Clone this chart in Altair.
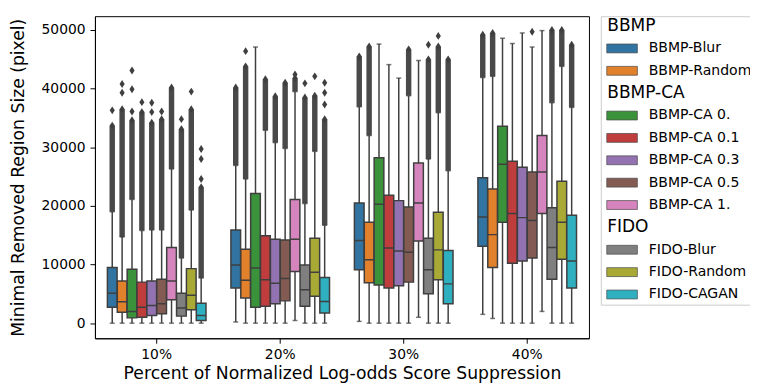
import altair as alt
import pandas as pd

groups = ["10%", "20%", "30%", "40%"]
methods = ["BBMP-Blur", "BBMP-Random", "BBMP-CA 0.", "BBMP-CA 0.1", "BBMP-CA 0.3",
           "BBMP-CA 0.5", "BBMP-CA 1.", "FIDO-Blur", "FIDO-Random", "FIDO-CAGAN"]
colors = ["#3274a1", "#e1812c", "#3a923a", "#c03d3e", "#9372b2",
          "#845b53", "#d684bd", "#7f7f7f", "#a9aa35", "#2eb0c1"]

# box statistics, one list per group (10%, 20%, 30%, 40%), methods in order
q1 = [
    [2700, 1850, 900, 1000, 1300, 1600, 4000, 1200, 2300, 450],
    [6000, 4300, 2700, 2900, 3300, 3800, 8800, 2900, 4600, 1750],
    [9100, 6900, 6500, 6000, 6400, 7000, 14000, 5000, 7400, 3300],
    [13100, 9500, 17200, 10200, 10600, 11100, 18700, 7500, 10900, 6000],
]
median = [
    [5100, 3650, 2000, 2700, 3000, 3300, 7200, 2600, 4750, 1300],
    [9900, 7300, 9400, 7400, 6800, 7600, 14300, 5700, 8700, 3700],
    [14100, 10800, 20300, 12800, 12300, 12100, 20500, 9100, 12500, 6700],
    [18100, 15100, 27100, 18700, 18000, 17500, 25800, 12900, 17200, 10600],
]
q3 = [
    [9500, 7200, 9200, 7000, 7200, 7500, 12900, 5100, 9300, 3400],
    [15900, 12600, 22100, 14900, 14300, 14200, 21100, 9900, 14500, 7800],
    [20500, 17200, 28200, 21800, 20900, 19800, 27300, 14500, 18900, 12400],
    [24800, 22900, 33600, 27600, 26600, 25800, 32000, 19700, 24200, 18400],
]
whisker_low = [
    [0, 0, 0, 0, 0, 0, 0, 0, 0, 0],
    [200, 0, 0, 0, 0, 0, 450, 0, 0, 0],
    [300, 0, 0, 0, 0, 0, 1000, 0, 0, 0],
    [1500, 800, 0, 0, 0, 0, 2000, 0, 0, 0],
]
whisker_high = [
    [19000, 14700, 21100, 15800, 15900, 15900, 26300, 11100, 19300, 7700],
    [26900, 24600, 47100, 32900, 30800, 29800, 39500, 20400, 29300, 16700],
    [36900, 32000, 47600, 44100, 41800, 38800, 44800, 28000, 35900, 26000],
    [41900, 42100, 48600, 47700, 49500, 47100, 49900, 37600, 43800, 36800],
]
# top of the dense column of outliers (None = no dense outliers)
outlier_top = [
    [33700, 36500, 34600, 36000, 34200, 34800, 40200, 33100, 36500, 23200],
    [40200, 43800, None, 41600, 38700, 41000, 41800, 38500, 38800, 34800],
    [45500, 47200, None, None, None, 46700, None, 45000, 47200, 45000],
    [49200, 49500, None, None, None, None, None, 50000, 50000, 47500],
]
# isolated outliers above the dense column
outlier_extra = [
    [[36300], [39300, 40800], [36100, 39900, 43100], [37700], [36000, 37600],
     [36100], [], [34800], [39500], [24600, 28000, 29700]],
    [[], [46400], [], [], [], [], [42400], [40900], [42100], [37300, 39300, 41000]],
    [[], [], [], [], [], [], [], [47500], [49000], []],
    [[], [], [], [], [], [49700], [], [], [], []],
]

rows, dense, fliers = [], [], []
for gi, g in enumerate(groups):
    for mi, m in enumerate(methods):
        rows.append(dict(group=g, method=m, q1=q1[gi][mi], med=median[gi][mi],
                         q3=q3[gi][mi], lo=whisker_low[gi][mi], hi=whisker_high[gi][mi]))
        top = outlier_top[gi][mi]
        if top is not None:
            dense.append(dict(group=g, method=m, lo=whisker_high[gi][mi], hi=top))
            fliers.append(dict(group=g, method=m, v=top))
        for v in outlier_extra[gi][mi]:
            fliers.append(dict(group=g, method=m, v=v))

box_df = pd.DataFrame(rows)
dense_df = pd.DataFrame(dense)
flier_df = pd.DataFrame(fliers)

LINE = "#3f3f3f"
FONT = "DejaVu Sans"

xenc = alt.X("group:N", sort=groups,
             scale=alt.Scale(paddingInner=0.2, paddingOuter=0.1),
             axis=alt.Axis(title="Percent of Normalized Log-odds Score Suppression",
                           labelAngle=0, labelFontSize=14, titleFontSize=17.4,
                           tickSize=5, labelPadding=4, titlePadding=4))
xoff = alt.XOffset("method:N", sort=methods,
                   scale=alt.Scale(paddingInner=0.02, paddingOuter=0.01))
yscale = alt.Scale(domain=[-2580, 52360], nice=False, zero=False)
color = alt.Color("method:N", sort=methods,
                  scale=alt.Scale(domain=methods, range=colors), legend=None)

base = alt.Chart(box_df)

whiskers = base.mark_rule(color=LINE, strokeWidth=1.5).encode(
    x=xenc, xOffset=xoff,
    y=alt.Y("lo:Q", scale=yscale,
            axis=alt.Axis(title="Minimal Removed Region Size (pixel)",
                          values=[0, 10000, 20000, 30000, 40000, 50000], format="d",
                          labelFontSize=14, titleFontSize=17.4, tickSize=5,
                          labelPadding=5, titlePadding=14, grid=False)),
    y2="hi:Q")

dense_rule = alt.Chart(dense_df).mark_rule(color=LINE, strokeWidth=5.5, opacity=0.95).encode(
    x=xenc, xOffset=xoff, y=alt.Y("lo:Q", scale=yscale), y2="hi:Q")

boxes = base.mark_bar(stroke=LINE, strokeWidth=1.5).encode(
    x=xenc, xOffset=xoff, y=alt.Y("q1:Q", scale=yscale), y2="q3:Q", color=color)

medians = base.mark_bar(stroke=LINE, strokeWidth=1.5, fillOpacity=0).encode(
    x=xenc, xOffset=xoff, y=alt.Y("med:Q", scale=yscale), y2="med:Q")

caps_lo = base.mark_tick(color=LINE, size=5, thickness=1.5).encode(
    x=xenc, xOffset=xoff, y=alt.Y("lo:Q", scale=yscale))
caps_hi = base.mark_tick(color=LINE, size=5, thickness=1.5).encode(
    x=xenc, xOffset=xoff, y=alt.Y("hi:Q", scale=yscale))

diamond = "M0,-1L0.65,0L0,1L-0.65,0Z"
flier_marks = alt.Chart(flier_df).mark_point(
    shape=diamond, size=64, filled=True, color=LINE, opacity=1).encode(
    x=xenc, xOffset=xoff, y=alt.Y("v:Q", scale=yscale))

main = alt.layer(whiskers, dense_rule, boxes, medians, caps_lo, caps_hi, flier_marks).properties(
    width=500, height=326, view=alt.ViewBackground(stroke="black", strokeWidth=1))

# custom legend with section headers
legend_labels = ["BBMP", "BBMP-Blur", "BBMP-Random", "BBMP-CA", "BBMP-CA 0.", "BBMP-CA 0.1",
                 "BBMP-CA 0.3", "BBMP-CA 0.5", "BBMP-CA 1.", "FIDO", "FIDO-Blur",
                 "FIDO-Random", "FIDO-CAGAN"]
legend_kind = ["header", "item", "item", "header", "item", "item", "item", "item", "item",
               "header", "item", "item", "item"]
leg_df = pd.DataFrame(dict(label=legend_labels, kind=legend_kind,
                           row=list(range(len(legend_labels)))))
LW, LH = 151, 293
ly = alt.Scale(domain=[-0.442, 12.5], reverse=True, nice=False, zero=False)

one = pd.DataFrame(dict(k=[0]))
FRAME = "#cccccc"
frame_top = alt.Chart(one).mark_rule(color=FRAME, strokeWidth=1).encode(
    x=alt.value(0.5), x2=alt.value(LW), y=alt.value(0.5))
frame_bottom = alt.Chart(one).mark_rule(color=FRAME, strokeWidth=1).encode(
    x=alt.value(0.5), x2=alt.value(LW), y=alt.value(LH - 0.5))
frame_left = alt.Chart(one).mark_rule(color=FRAME, strokeWidth=1).encode(
    x=alt.value(0.5), y=alt.value(0.5), y2=alt.value(LH - 0.5))

symbols = alt.Chart(leg_df).transform_filter(alt.datum.kind == "item").mark_point(
    shape="M-1,-0.29H1V0.29H-1Z", size=961, filled=True, opacity=1,
    stroke="#4a4a4a", strokeWidth=0.7).encode(
    x=alt.value(21.5), y=alt.Y("row:Q", scale=ly, axis=None),
    fill=alt.Fill("label:N", scale=alt.Scale(domain=methods, range=colors), legend=None))

item_text = alt.Chart(leg_df).transform_filter(alt.datum.kind == "item").mark_text(
    align="left", baseline="middle", fontSize=14.2, font=FONT, color="black",
    clip=True).encode(
    x=alt.value(48.5), y=alt.Y("row:Q", scale=ly, axis=None), text="label:N")

head_text = alt.Chart(leg_df).transform_filter(alt.datum.kind == "header").mark_text(
    align="left", baseline="middle", fontSize=17.2, font=FONT, color="black").encode(
    x=alt.value(6.5), y=alt.Y("row:Q", scale=ly, axis=None), text="label:N")

legend = alt.layer(frame_top, frame_bottom, frame_left, symbols, item_text, head_text).properties(
    width=LW, height=LH, view=alt.ViewBackground(stroke="transparent"))

chart = alt.hconcat(main, legend, spacing=10).properties(
    padding={"left": 0, "top": 5, "right": 0, "bottom": 0}
).configure(font=FONT).configure_axis(
    domainColor="black", tickColor="black", labelColor="black", titleColor="black",
    labelFont=FONT, titleFont=FONT, titleFontWeight="normal", domainWidth=1, tickWidth=1
).resolve_scale(color="independent")

chart.save("out.html", embed_options={"renderer": "svg", "actions": False})
